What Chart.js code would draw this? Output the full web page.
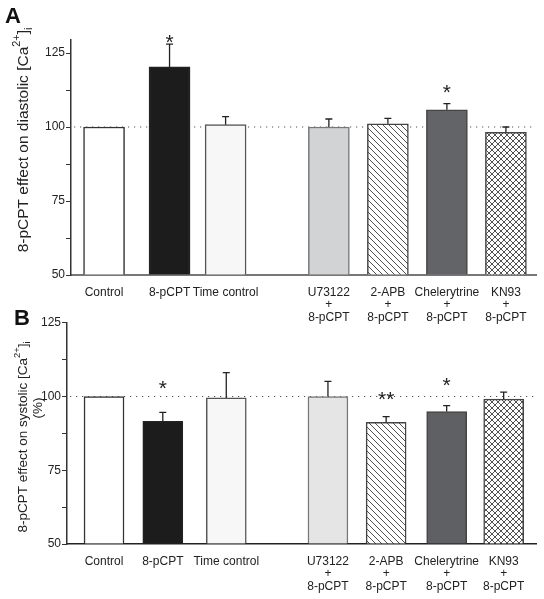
<!DOCTYPE html>
<html>
<head>
<meta charset="utf-8">
<script src="https://cdn.jsdelivr.net/npm/chart.js@4.4.1/dist/chart.umd.min.js"></script>
<style>
  body { margin: 0; background: #fff; }
  #wrap { position: relative; width: 544px; height: 599px; }
  #wrap canvas { position: absolute; left: 0; }
  #chartA { top: 0; }
  #chartB { top: 300px; }
</style>
</head>
<body>
<div id="wrap">
  <canvas id="chartA" width="544" height="330"></canvas>
  <canvas id="chartB" width="544" height="299"></canvas>
</div>
<script>
// groups on the x axis (multi-line labels)
var groups = [
    ['Control'], ['8-pCPT'], ['Time control'],
    ['U73122', '+', '8-pCPT'], ['2-APB', '+', '8-pCPT'],
    ['Chelerytrine', '+', '8-pCPT'], ['KN93', '+', '8-pCPT']
];
// where each group sits along the x axis (in slot units, a gap after Time control)
var slotsA = [0, 1.11, 2.06, 3.81, 4.81, 5.81, 6.81];
var slotsB = [0, 1.00, 2.08, 3.81, 4.80, 5.83, 6.80];

// panel A: diastolic [Ca2+]i, % of control
var diastolic    = [100, 120.3, 100.8, 100.0, 101.1, 105.8, 98.2];
var diastolicSem = [0, 7.7, 2.7, 2.7, 1.8, 2.1, 1.8];
var diastolicSig = ['', '*', '', '', '', '*', ''];
var diastolicSigAt = [null, 130.4, null, null, null, 113.5, null];

// panel B: systolic [Ca2+]i, % of control
var systolic    = [100, 91.6, 99.5, 100.0, 91.2, 94.9, 99.1];
var systolicSem = [0, 3.0, 8.6, 5.1, 2.0, 2.0, 2.4];
var systolicSig = ['', '*', '', '', '**', '*', ''];
var systolicSigAt = [null, 104.6, null, null, 100.9, 105.6, null];

var yLabelled = [50, 75, 100, 125];
var refLine = 100;

var FONT = '"Liberation Sans", Arial, Helvetica, sans-serif';
var INK = '#222';

function hatch(ctx, cross) {
    var s = 6;
    var c = document.createElement('canvas');
    c.width = s; c.height = s;
    var g = c.getContext('2d');
    g.fillStyle = '#fff';
    g.fillRect(0, 0, s, s);
    g.strokeStyle = '#3c3c3c';
    g.lineWidth = 0.9;
    g.beginPath();
    for (var k = -s; k <= s; k += s) {
        g.moveTo(k, 0); g.lineTo(k + s, s);
        if (cross) { g.moveTo(k + s, 0); g.lineTo(k, s); }
    }
    g.stroke();
    return ctx.createPattern(c, 'repeat');
}

function drawRotated(ctx, cx, cy, parts, size) {
    ctx.save();
    ctx.translate(cx, cy);
    ctx.rotate(-Math.PI / 2);
    ctx.fillStyle = INK;
    ctx.textBaseline = 'middle';
    ctx.textAlign = 'left';
    var total = 0;
    parts.forEach(function (p) {
        ctx.font = (p.s ? size * 0.7 : size) + 'px ' + FONT;
        p.w = ctx.measureText(p.t).width;
        total += p.w;
    });
    var x = -total / 2;
    parts.forEach(function (p) {
        ctx.font = (p.s ? size * 0.7 : size) + 'px ' + FONT;
        var dy = p.s === 'sup' ? -size * 0.42 : (p.s === 'sub' ? size * 0.32 : 0);
        ctx.fillText(p.t, x, dy);
        x += p.w;
    });
    ctx.restore();
}

function extras(cfg) {
    return {
        id: 'extras',
        beforeDatasetsDraw: function (chart) {
            var ctx = chart.ctx, a = chart.chartArea;
            var y = chart.scales.y.getPixelForValue(refLine);
            ctx.save();
            ctx.strokeStyle = '#555';
            ctx.lineWidth = 1.1;
            ctx.setLineDash([1.2, 4.8]);
            ctx.beginPath();
            ctx.moveTo(a.left + 3, y);
            ctx.lineTo(a.right, y);
            ctx.stroke();
            ctx.restore();
        },
        afterDatasetsDraw: function (chart) {
            var ctx = chart.ctx, ys = chart.scales.y;
            var bars = chart.getDatasetMeta(0).data;
            ctx.save();
            ctx.strokeStyle = INK;
            ctx.lineWidth = 1.3;
            bars.forEach(function (bar, i) {
                var sem = cfg.sem[i];
                if (!sem) return;
                var top = ys.getPixelForValue(cfg.values[i] + sem);
                ctx.beginPath();
                ctx.moveTo(bar.x, bar.y);
                ctx.lineTo(bar.x, top);
                ctx.moveTo(bar.x - 3.5, top);
                ctx.lineTo(bar.x + 3.5, top);
                ctx.stroke();
            });
            ctx.fillStyle = INK;
            ctx.font = '21px ' + FONT;
            ctx.textAlign = 'center';
            ctx.textBaseline = 'alphabetic';
            bars.forEach(function (bar, i) {
                if (!cfg.sig[i]) return;
                var y = ys.getPixelForValue(cfg.sigAt[i]);
                ctx.fillText(cfg.sig[i], bar.x, y + 21 * 0.57);
            });
            ctx.restore();
        },
        afterDraw: function (chart) {
            var ctx = chart.ctx;
            ctx.save();
            ctx.fillStyle = '#111';
            ctx.font = 'bold 22px ' + FONT;
            ctx.textBaseline = 'alphabetic';
            ctx.textAlign = 'left';
            ctx.fillText(cfg.letter, cfg.letterAt[0], cfg.letterAt[1]);
            ctx.restore();
            cfg.titles.forEach(function (t) {
                drawRotated(ctx, t.x, t.y, t.parts, t.size);
            });
        }
    };
}

function build(id, c) {
    var canvas = document.getElementById(id);
    var ctx = canvas.getContext('2d');
    var fills = c.fills.map(function (f) {
        if (f === 'diag') return hatch(ctx, false);
        if (f === 'cross') return hatch(ctx, true);
        return f;
    });
    return new Chart(ctx, {
        type: 'bar',
        data: {
            datasets: [{
                data: c.values.map(function (v, i) { return { x: c.slots[i], y: v }; }),
                base: 50,
                backgroundColor: fills,
                borderColor: c.borders,
                borderWidth: 1.5,
                borderSkipped: 'bottom',
                barThickness: c.barW
            }]
        },
        options: {
            responsive: false,
            animation: false,
            layout: { padding: { left: 0, right: 8, top: c.top, bottom: 0 } },
            plugins: { legend: { display: false }, tooltip: { enabled: false } },
            scales: {
                x: {
                    type: 'linear',
                    min: c.xmin, max: c.xmax,
                    offset: false,
                    grid: { display: true, drawOnChartArea: false, drawTicks: false },
                    border: { display: true, color: c.axisColor, width: c.axisWidth },
                    afterBuildTicks: function (s) {
                        s.ticks = c.slots.map(function (v) { return { value: v }; });
                    },
                    afterFit: function (s) { s.height = c.xh; },
                    ticks: {
                        autoSkip: false, maxRotation: 0, minRotation: 0,
                        padding: 11.5,
                        color: INK,
                        font: { family: FONT, size: 12, lineHeight: 1.03 },
                        callback: function (v, i) { return groups[i]; }
                    }
                },
                y: {
                    min: 50, max: c.ymax,
                    grid: { display: true, drawOnChartArea: false, drawTicks: true, tickLength: 5, color: '#333', lineWidth: 1 },
                    border: { display: true, color: '#333', width: 1.5 },
                    afterFit: function (s) { s.width = c.yw; },
                    ticks: {
                        stepSize: 12.5,
                        includeBounds: false,
                        padding: 1,
                        color: INK,
                        font: { family: FONT, size: 12 },
                        callback: function (v) { return yLabelled.indexOf(v) >= 0 ? v : ''; }
                    }
                }
            }
        },
        plugins: [extras(c)]
    });
}

build('chartA', {
    slots: slotsA, values: diastolic, sem: diastolicSem, sig: diastolicSig, sigAt: diastolicSigAt,
    fills: ['#ffffff', '#1c1c1c', '#f7f7f7', '#d2d3d5', 'diag', '#636467', 'cross'],
    borders: ['#333', '#222', '#555', '#777', '#444', '#444', '#444'],
    xmin: -0.56, xmax: 7.32, ymax: 129.4, top: 40, xh: 55, yw: 71, barW: 41,
    axisColor: '#777', axisWidth: 2,
    letter: 'A', letterAt: [5, 23],
    titles: [{ x: 24, y: 140, size: 15.5, parts: [
        { t: '8-pCPT effect on diastolic [Ca' }, { t: '2+', s: 'sup' }, { t: ']' }, { t: 'i', s: 'sub' }
    ] }]
});

build('chartB', {
    slots: slotsB, values: systolic, sem: systolicSem, sig: systolicSig, sigAt: systolicSigAt,
    fills: ['#ffffff', '#1c1c1c', '#f7f7f7', '#e5e5e5', 'diag', '#5f6063', 'cross'],
    borders: ['#333', '#222', '#555', '#777', '#444', '#444', '#444'],
    xmin: -0.63, xmax: 7.35, ymax: 125, top: 22.7, xh: 55, yw: 67, barW: 40,
    axisColor: '#222', axisWidth: 1.5,
    letter: 'B', letterAt: [14, 25],
    titles: [
        { x: 23, y: 137, size: 13.5, parts: [
            { t: '8-pCPT effect on systolic [Ca' }, { t: '2+', s: 'sup' }, { t: ']' }, { t: 'i', s: 'sub' }
        ] },
        { x: 38, y: 108, size: 13.5, parts: [{ t: '(%)' }] }
    ]
});
</script>
</body>
</html>
